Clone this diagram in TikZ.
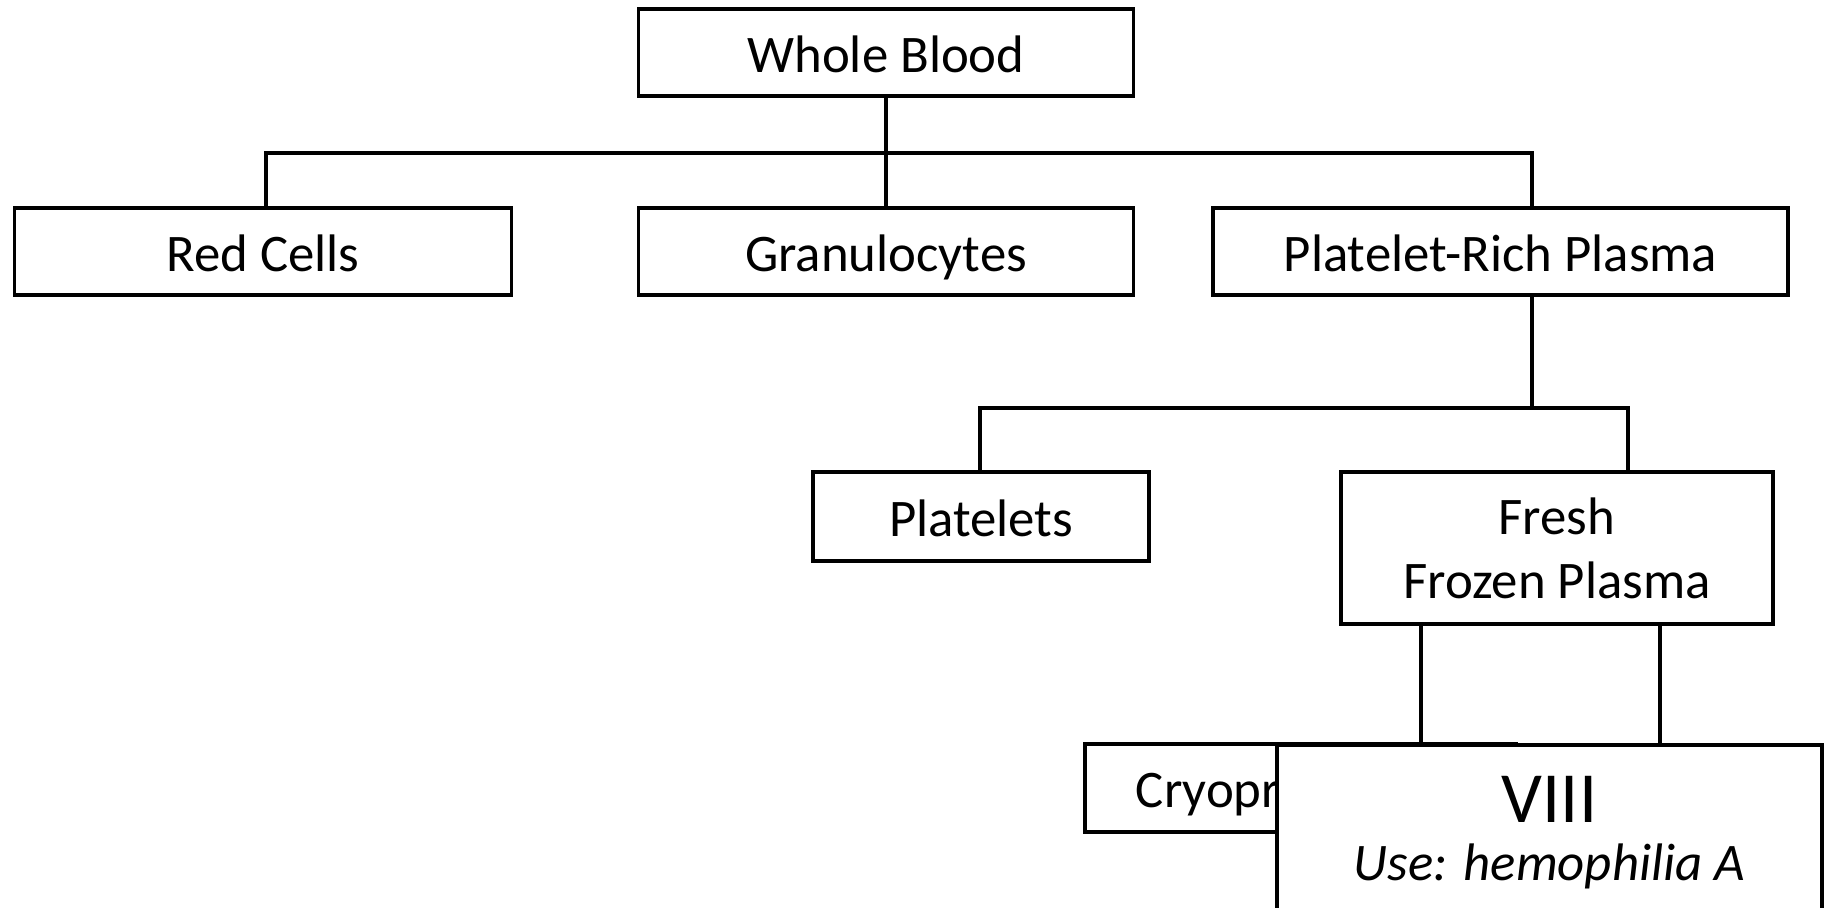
\documentclass[tikz,border=0pt]{standalone}
\usepackage{fontspec}
\setmainfont{Carlito}
\begin{document}
\begin{tikzpicture}[x=0.5pt,y=-0.5pt,
  box/.style={draw=black, line width=1.9pt, fill=white, rectangle, inner sep=0pt,
    align=center, font=\fontsize{26.4}{32}\selectfont},
  one/.style={text height=19.6pt, text depth=0pt},
  link/.style={draw=black, line width=1.7pt},
  lbl/.style={inner sep=0pt}]
\useasboundingbox (0,0) rectangle (1829,908);

% top level
\node[box, one, minimum width=247.5pt, minimum height=43.5pt] (wb)   at (886,52.5) {Whole Blood};
\node[box, one, minimum width=248.5pt, minimum height=43.5pt] (red)  at (263,251.5) {Red Cells};
\node[box, one, minimum width=247.5pt, minimum height=43.5pt] (gran) at (886,251.5) {Granulocytes};
\node[box, one, minimum width=287.5pt, minimum height=43.5pt] (prp)  at (1500.5,251.5) {Platelet-Rich Plasma};

% second level
\node[box, one, minimum width=168pt, minimum height=44.5pt] (plt) at (981,516.5) {Platelets};
\node[box, minimum width=216pt, minimum height=76pt] (ffp) at (1557,548) {Fresh\\Frozen Plasma};

% junction points
\coordinate (b1) at (266,153);
\coordinate (b2) at (1532,153);
\coordinate (c0) at (1532,408);
\coordinate (c1) at (980,408);
\coordinate (c2) at (1628,408);
\coordinate (d1) at (1421,743);
\coordinate (d2) at (1660,743);

% connectors
\draw[link] (wb.south) -- (gran.north);
\draw[link] (b1 |- red.north) -- (b1) -- (b2) -- (b2 |- prp.north);
\draw[link] (prp.south -| c0) -- (c0);
\draw[link] (c1 |- plt.north) -- (c1) -- (c2) -- (c2 |- ffp.north);
\draw[link] (ffp.south -| d1) -- (d1);
\draw[link] (ffp.south -| d2) -- (d2);

% third level
\node[box, one, minimum width=215.5pt, minimum height=44pt] (cryo) at (1300.5,788) {Cryoprecipitate};
\node[box, minimum width=272.5pt, minimum height=125pt, anchor=north] (viii) at (1549.5,743) {};
\node[lbl, font=\fontsize{36}{40}\selectfont] (viiit) at (1549.5,799) {VIII};
\node[lbl, font=\fontsize{26.4}{32}\selectfont\itshape] (use) at (1549.5,866) {Use: hemophilia A};
\end{tikzpicture}
\end{document}
